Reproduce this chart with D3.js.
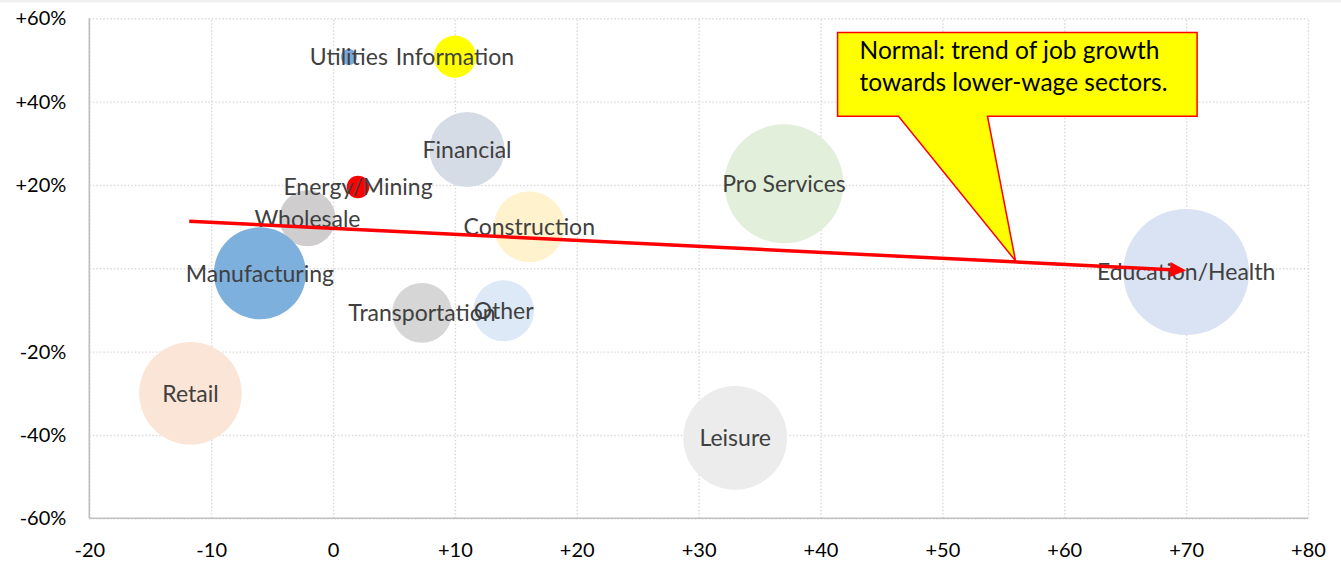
<!DOCTYPE html>
<html>
<head>
<meta charset="utf-8">
<script src="https://cdn.jsdelivr.net/npm/d3@7"></script>
<style>
  html, body { margin: 0; padding: 0; background: #fff; }
  svg { display: block; font-family: Lato, "Open Sans", sans-serif; }
</style>
</head>
<body>
<script>
// sectors, drawn in this order (later ones sit on top)
const sectors = ["Utilities", "Information", "Financial", "Wholesale", "Energy/Mining", "Construction",
    "Pro Services", "Manufacturing", "Transportation", "Other", "Retail", "Leisure", "Education/Health"];
// x: job change, y: relative change (%), size: bubble size
const jobChange = [1.3, 10.0, 11.0, -2.1, 2.05, 16.1, 37.0, -6.0, 7.3, 14.0, -11.7, 33.0, 70.0];
const pctChange = [50.7, 50.8, 28.5, 12.0, 19.5, 10.0, 20.3, -1.2, -10.7, -10.2, -30.0, -40.7, -0.9];
const bubbleSize = [0.39, 2.67, 8.5, 4.74, 0.77, 7.6, 21.4, 12.8, 5.4, 5.6, 15.9, 16.3, 24.0];
const colors = ["#7aaadc", "#ffff00", "#d6dce5", "#cfcdcd", "#ff0000", "#fff2cc",
    "#e2efda", "#7eb0de", "#d6d6d6", "#dde9f6", "#fbe5d6", "#ececec", "#dae3f3"];

const xTicks = [-20, -10, 0, 10, 20, 30, 40, 50, 60, 70, 80];
const yTicks = [-60, -40, -20, 0, 20, 40, 60];

// trend arrow and callout, in data units
const trendFrom = [-11.8, 11.3];
const trendTo = [70, -0.5];
const calloutLines = ["Normal: trend of job growth", "towards lower-wage sectors."];
const calloutBox = { x0: 41.4, x1: 70.9, y0: 56.6, y1: 36.5 };
const calloutPointer = { base0: 46.4, base1: 53.7, tip: [56, 1.8] };

const width = 1341, height = 562;
const plotLeft = 89.3, plotRight = 1308, plotTop = 18.3, plotBottom = 518.3;

const svg = d3.select("body").append("svg")
    .attr("width", width)
    .attr("height", height);

svg.append("rect")
    .attr("width", width).attr("height", 2.5)
    .attr("fill", "#efefef");

const x = d3.scaleLinear().domain([-20, 80]).range([plotLeft, plotRight]);
const y = d3.scaleLinear().domain([-60, 60]).range([plotBottom, plotTop]);
const r = d3.scaleSqrt().domain([0, 24]).range([0, 63]);

// grid + tick labels
const yAxis = svg.append("g")
    .attr("transform", `translate(${plotLeft},0)`)
    .call(d3.axisLeft(y)
        .tickValues(yTicks)
        .tickSize(-(plotRight - plotLeft))
        .tickPadding(23)
        .tickFormat(d => d === 0 ? "" : (d > 0 ? "+" : "") + d + "%"));

const xAxis = svg.append("g")
    .attr("transform", `translate(0,${plotBottom})`)
    .call(d3.axisBottom(x)
        .tickValues(xTicks)
        .tickSize(-(plotBottom - plotTop))
        .tickPadding(25)
        .tickFormat(d => (d > 0 ? "+" : "") + d));

[yAxis, xAxis].forEach(g => {
    g.select(".domain").remove();
    g.selectAll(".tick line")
        .attr("stroke", "#d9d9d9")
        .attr("stroke-width", 1.4)
        .attr("stroke-dasharray", "1.5,2");
    g.selectAll(".tick text")
        .attr("fill", "#000")
        .style("font-size", "20px")
        .style("font-family", "Lato, 'Open Sans', sans-serif");
});

// axis lines
svg.append("line")
    .attr("x1", plotLeft).attr("x2", plotLeft)
    .attr("y1", plotTop).attr("y2", plotBottom)
    .attr("stroke", "#bfbfbf").attr("stroke-width", 1.6);
svg.append("line")
    .attr("x1", plotLeft).attr("x2", plotRight)
    .attr("y1", plotBottom).attr("y2", plotBottom)
    .attr("stroke", "#bfbfbf").attr("stroke-width", 1.6);

const data = sectors.map((name, i) => ({
    name: name, jx: jobChange[i], py: pctChange[i], size: bubbleSize[i], color: colors[i]
}));

svg.append("g").selectAll("circle")
    .data(data)
    .enter().append("circle")
    .attr("cx", d => x(d.jx))
    .attr("cy", d => y(d.py))
    .attr("r", d => r(d.size))
    .attr("fill", d => d.color);

// labels sit centred on each bubble, as in the original (Transportation/Other touch there too)
svg.append("g").selectAll("text")
    .data(data)
    .enter().append("text")
    .attr("x", d => x(d.jx))
    .attr("y", d => y(d.py))
    .attr("dy", "0.36em")
    .attr("text-anchor", "middle")
    .attr("fill", "#404040")
    .style("font-size", "23px")
    .text(d => d.name);

// trend arrow
const p0 = [x(trendFrom[0]), y(trendFrom[1])];
const p1 = [x(trendTo[0]), y(trendTo[1])];
const len = Math.hypot(p1[0] - p0[0], p1[1] - p0[1]);
const ux = (p1[0] - p0[0]) / len, uy = (p1[1] - p0[1]) / len;
const headLen = 16, headHalf = 7.5;
const base = [p1[0] - ux * headLen, p1[1] - uy * headLen];

svg.append("line")
    .attr("x1", p0[0]).attr("y1", p0[1])
    .attr("x2", base[0] + ux * 1).attr("y2", base[1] + uy * 1)
    .attr("stroke", "#ff0000")
    .attr("stroke-width", 3.5);
svg.append("path")
    .attr("d", d3.line()([
        p1,
        [base[0] - uy * headHalf, base[1] + ux * headHalf],
        [base[0] + uy * headHalf, base[1] - ux * headHalf]
    ]) + "Z")
    .attr("fill", "#ff0000");

// callout
const bx0 = x(calloutBox.x0), bx1 = x(calloutBox.x1);
const by0 = y(calloutBox.y0), by1 = y(calloutBox.y1);
svg.append("path")
    .attr("d", d3.line()([
        [bx0, by0], [bx1, by0], [bx1, by1],
        [x(calloutPointer.base1), by1],
        [x(calloutPointer.tip[0]), y(calloutPointer.tip[1])],
        [x(calloutPointer.base0), by1],
        [bx0, by1]
    ]) + "Z")
    .attr("fill", "#ffff00")
    .attr("stroke", "#ff0000")
    .attr("stroke-width", 1.5)
    .attr("stroke-linejoin", "miter");

svg.append("g").selectAll("text")
    .data(calloutLines)
    .enter().append("text")
    .attr("x", bx0 + 22)
    .attr("y", (d, i) => by0 + 26.5 + i * 32)
    .attr("fill", "#000")
    .style("font-size", "24.5px")
    .text(d => d);
</script>
</body>
</html>
